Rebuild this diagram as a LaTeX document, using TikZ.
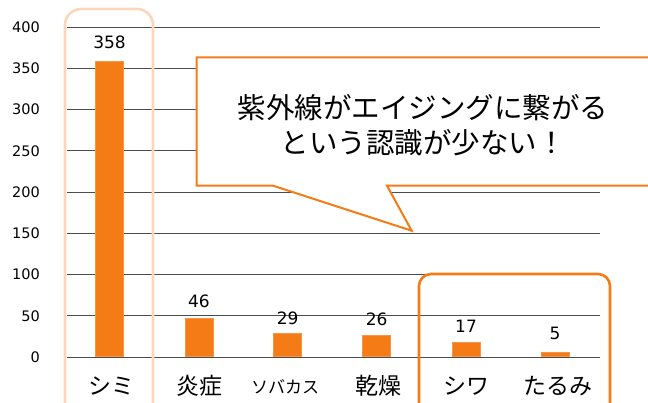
\documentclass[tikz,border=0pt]{standalone}
\usepackage{fontspec}
\setmainfont{Noto Sans CJK JP}
\newfontfamily\numfont{DejaVu Sans}
\usepackage{xcolor}
\usepackage{tikz}
\usetikzlibrary{positioning}

\definecolor{barorange}{RGB}{244,123,22}
\definecolor{peach}{RGB}{251,214,186}

\begin{document}
\begin{tikzpicture}[x=1pt, y=-1pt,
		grid/.style={black!70, line width=0.8pt},
		bar/.style={fill=barorange, draw=barorange!80, line width=0.6pt, minimum width=28pt, inner sep=0pt, anchor=south},
		val/.style={font=\numfont\fontsize{17}{17}\selectfont, inner sep=0pt},
		tick/.style={font=\numfont\fontsize{14.5}{14.5}\selectfont, inner sep=0pt, anchor=east},
		cat/.style={font=\fontsize{23}{23}\selectfont, inner sep=0pt},
		hilite/.style={rounded corners=16pt, line width=2.6pt}]
		\useasboundingbox (0,0) rectangle (648,402);

		% gridlines and axis values
		\draw[grid] (67,27) -- (600,27);
		\draw[grid] (67,68.25) -- (600,68.25);
		\draw[grid] (67,109.5) -- (600,109.5);
		\draw[grid] (67,150.75) -- (600,150.75);
		\draw[grid] (67,192) -- (600,192);
		\draw[grid] (67,233.25) -- (600,233.25);
		\draw[grid] (67,274.5) -- (600,274.5);
		\draw[grid] (67,315.75) -- (600,315.75);
		\draw[grid] (67,357) -- (600,357);
		\node[tick] (t400) at (40,27) {400};
		\node[tick] (t350) at (40,68.25) {350};
		\node[tick] (t300) at (40,109.5) {300};
		\node[tick] (t250) at (40,150.75) {250};
		\node[tick] (t200) at (40,192) {200};
		\node[tick] (t150) at (40,233.25) {150};
		\node[tick] (t100) at (40,274.5) {100};
		\node[tick] (t50) at (40,315.75) {50};
		\node[tick] (t0) at (40,357) {0};

		% bars
		\node[bar, minimum height=295.4pt] (shimi) at (109.5,357) {};
		\node[bar, minimum height=38pt] (ensho) at (199,357) {};
		\node[bar, minimum height=23.9pt] (sobakasu) at (287.6,357) {};
		\node[bar, minimum height=21.5pt] (kanso) at (376.7,357) {};
		\node[bar, minimum height=14pt] (shiwa) at (466,357) {};
		\node[bar, minimum height=4.1pt] (tarumi) at (555,357) {};

		\node[val] (v1) [above=12pt of shimi] {358};
		\node[val] (v2) [above=10pt of ensho] {46};
		\node[val] (v3) [above=8pt of sobakasu] {29};
		\node[val] (v4) [above=9pt of kanso] {26};
		\node[val] (v5) [above=10pt of shiwa] {17};
		\node[val] (v6) [above=12pt of tarumi] {5};

		% categories
		\node[cat] (c1) at (111.5,386) {シミ};
		\node[cat] (c2) at (199,386) {炎症};
		\node[cat, font=\fontsize{17}{17}\selectfont] (c3) at (285,386.5) {ソバカス};
		\node[cat] (c4) at (378,386) {乾燥};
		\node[cat] (c5) at (466.5,386) {シワ};
		\node[cat] (c6) at (558,386) {たるみ};

		% callout
		\draw[barorange, line width=2pt, fill=white, line join=miter]
			(196.7,57.3) -- (655,57.3) -- (655,185.7) -- (387,185.7)
			-- (411.7,230.7) -- (273,185.7) -- (196.7,185.7) -- cycle;
		\node[align=center, font=\fontsize{28.5}{35}\selectfont] (msg) at (423,125)
			{紫外線がエイジングに繋がる\\という認識が少ない！};

		% highlights
		\draw[hilite, peach] (65,9) rectangle (153,420);
		\draw[hilite, barorange, rounded corners=12pt] (419,274) rectangle (610,420);
	\end{tikzpicture}
\end{document}
